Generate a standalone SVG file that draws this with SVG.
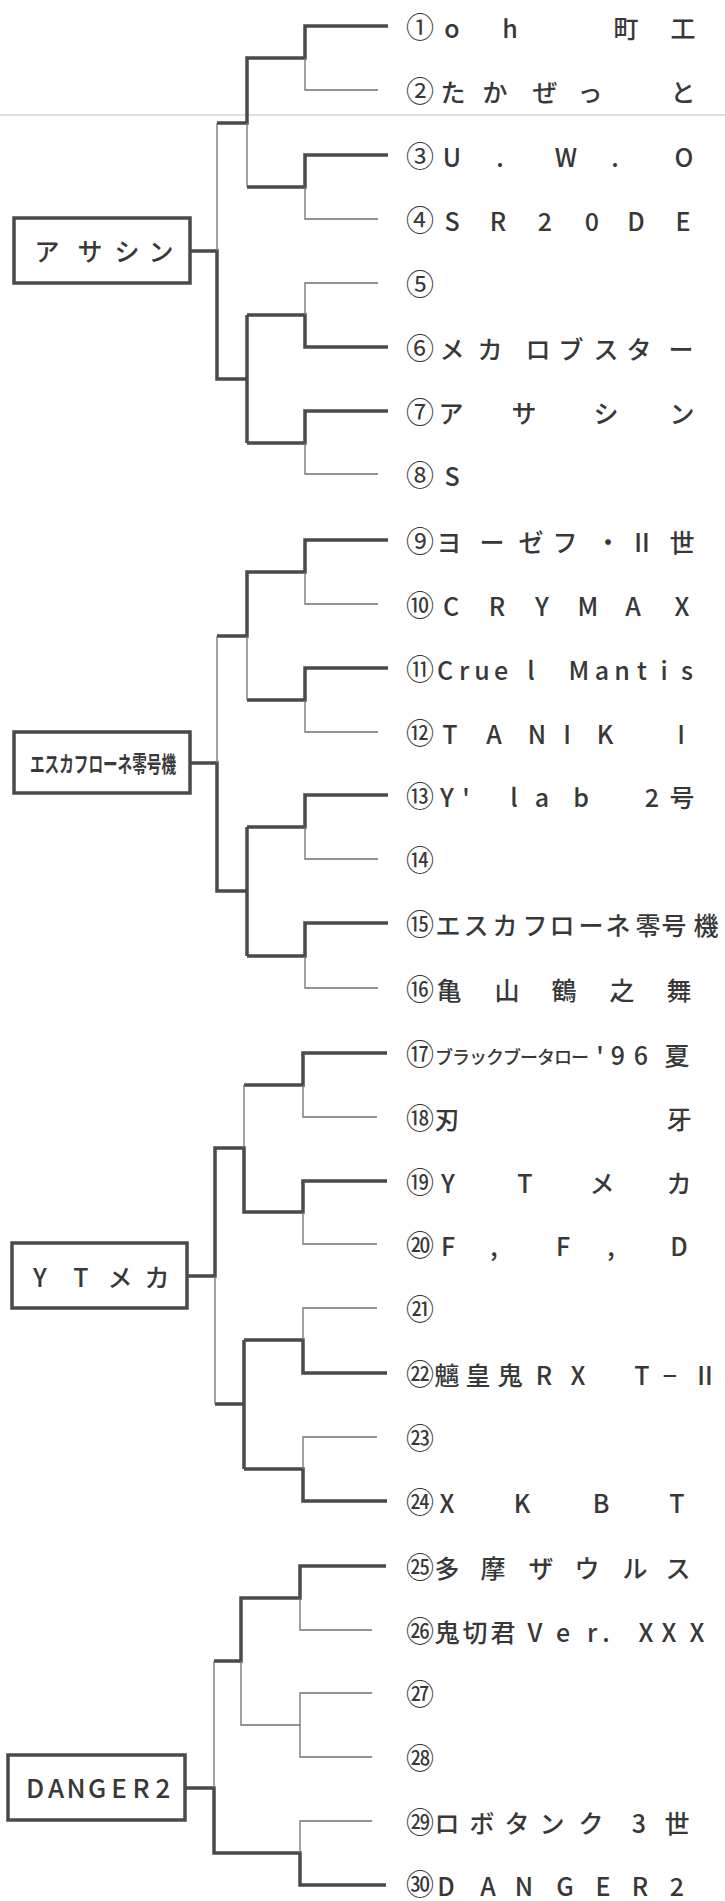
<svg xmlns="http://www.w3.org/2000/svg" width="725" height="1901" viewBox="0 0 725 1901">
<style>
.bg{fill:#ffffff}
.thick{fill:none;stroke:#4a4a4a;stroke-width:3.5;stroke-linejoin:miter;stroke-linecap:butt}
.thin{fill:none;stroke:#707070;stroke-width:1.3}
.artifact{stroke:#d4d4d4;stroke-width:1.5}
.box{fill:#ffffff;stroke:#4a4a4a;stroke-width:3.5}
.n{font-family:"Noto Sans CJK JP","Noto Sans",sans-serif;font-size:28px;fill:#383838;text-anchor:middle}
.t{font-family:"Noto Sans CJK JP","Noto Sans",sans-serif;font-size:25px;font-weight:500;fill:#383838;text-anchor:middle}
.bt{font-family:"Noto Sans CJK JP","Noto Sans",sans-serif;font-size:25px;font-weight:500;fill:#383838;text-anchor:middle}
</style>
<rect class="bg" x="0" y="0" width="725" height="1901"/>
<line class="artifact" x1="0" y1="115" x2="725" y2="115"/>

<g id="connectors">
  <!-- group A -->
  <path class="thick" d="M388,26 H305 V58 H247 V123 H217"/>
  <path class="thick" d="M388,155 H305 V187 H247"/>
  <path class="thick" d="M190,251 H217 V379 H247"/>
  <path class="thick" d="M247,315 V443"/>
  <path class="thick" d="M388,347 H305 V315 H247"/>
  <path class="thick" d="M388,411 H305 V443 H247"/>
  <path class="thin" d="M378,90 H305 V58"/>
  <path class="thin" d="M378,219 H305 V187"/>
  <path class="thin" d="M247,123 V187"/>
  <path class="thin" d="M217,123 V251"/>
  <path class="thin" d="M378,283 H305 V315"/>
  <path class="thin" d="M378,474 H305 V443"/>
  <!-- group B -->
  <path class="thick" d="M388,540 H305 V572 H247 V636 H217"/>
  <path class="thick" d="M388,668 H305 V700 H247"/>
  <path class="thick" d="M190,763 H217 V891 H247"/>
  <path class="thick" d="M247,827 V956"/>
  <path class="thick" d="M388,795 H305 V827 H247"/>
  <path class="thick" d="M388,923 H305 V956 H247"/>
  <path class="thin" d="M378,604 H305 V572"/>
  <path class="thin" d="M378,732 H305 V700"/>
  <path class="thin" d="M247,636 V700"/>
  <path class="thin" d="M217,636 V763"/>
  <path class="thin" d="M378,859 H305 V827"/>
  <path class="thin" d="M378,988 H305 V956"/>
  <!-- group C -->
  <path class="thick" d="M387,1053 H303 V1085 H244"/>
  <path class="thick" d="M387,1181 H303 V1212 H244 V1148 H215 V1276 H187"/>
  <path class="thick" d="M215,1404 H244"/>
  <path class="thick" d="M244,1340 V1469"/>
  <path class="thick" d="M387,1373 H303 V1340 H244"/>
  <path class="thick" d="M387,1501 H303 V1469 H244"/>
  <path class="thin" d="M377,1117 H303 V1085"/>
  <path class="thin" d="M244,1085 V1148"/>
  <path class="thin" d="M377,1244 H303 V1212"/>
  <path class="thin" d="M215,1276 V1404"/>
  <path class="thin" d="M377,1308 H303 V1340"/>
  <path class="thin" d="M377,1437 H303 V1469"/>
  <!-- group D -->
  <path class="thick" d="M386,1566 H300 V1598 H241 V1661 H214"/>
  <path class="thick" d="M185,1788 H214 V1853 H300 V1885 H386"/>
  <path class="thin" d="M372,1630 H300 V1598"/>
  <path class="thin" d="M241,1661 V1725 H300"/>
  <path class="thin" d="M372,1693 H300 V1757 H372"/>
  <path class="thin" d="M214,1661 V1788"/>
  <path class="thin" d="M372,1821 H300 V1853"/>
</g>

<g id="box-assassin">
  <rect class="box" x="14" y="218" width="176" height="65"/>
  <text class="bt" x="47 90 127 161" y="261">アサシン</text>
</g>
<g id="box-escaflowne">
  <rect class="box" x="14" y="732" width="176" height="61"/>
  <text x="30" y="772" textLength="146" lengthAdjust="spacingAndGlyphs" style="font-family:'Noto Sans CJK JP',sans-serif;font-size:22px;font-weight:bold;fill:#383838">エスカフローネ零号機</text>
</g>
<g id="box-ytmeka">
  <rect class="box" x="12" y="1243" width="175" height="65"/>
  <text class="bt" x="40 81 120 157" y="1287">YTメカ</text>
</g>
<g id="box-danger2">
  <rect class="box" x="8" y="1755" width="177" height="65"/>
  <text class="bt" x="35 56 76 97 119 141 163" y="1798" style="font-size:26px">DANGER2</text>
</g>

<g id="p1"><text class="n" x="420" y="38">①</text><text class="t" x="452 510 626 683" y="38">oh町工</text></g>
<g id="p2"><text class="n" x="420" y="102">②</text><text class="t" x="453 495 545 590 683" y="102">たかぜっと</text></g>
<g id="p3"><text class="n" x="420" y="167">③</text><text class="t" x="452 500 566 615 684" y="167">U.W.O</text></g>
<g id="p4"><text class="n" x="420" y="231">④</text><text class="t" x="452 498 545 592 636 683" y="231">SR20DE</text></g>
<g id="p5"><text class="n" x="420" y="295">⑤</text></g>
<g id="p6"><text class="n" x="420" y="359">⑥</text><text class="t" x="452 490 538 571 606 639 681" y="359">メカロブスター</text></g>
<g id="p7"><text class="n" x="420" y="423">⑦</text><text class="t" x="451 524 606 682" y="423">アサシン</text></g>
<g id="p8"><text class="n" x="420" y="486">⑧</text><text class="t" x="452" y="486">S</text></g>
<g id="p9"><text class="n" x="420" y="552">⑨</text><text class="t" x="449 492 531 565 608 642 682" y="552">ヨーゼフ・Ⅱ世</text></g>
<g id="p10"><text class="n" x="420" y="616">⑩</text><text class="t" x="451 497 542 588 633 682" y="616">CRYMAX</text></g>
<g id="p11"><text class="n" x="420" y="680">⑪</text><text class="t" x="445 464 482 501 531 555 579 602 622 642 664 687" y="680">Cruel Mantis</text></g>
<g id="p12"><text class="n" x="420" y="744">⑫</text><text class="t" x="450 494 537 567 605 640 681" y="744">TANIK I</text></g>
<g id="p13"><text class="n" x="420" y="807">⑬</text><text class="t" x="447 466 514 542 581 620 652 682" y="807">Y'lab 2号</text></g>
<g id="p14"><text class="n" x="420" y="871">⑭</text></g>
<g id="p15"><text class="n" x="420" y="935">⑮</text><text class="t" x="448 476 505 535 562 591 618 648 674 706" y="935">エスカフローネ零号機</text></g>
<g id="p16"><text class="n" x="420" y="1000">⑯</text><text class="t" x="449 507 564 622 679" y="1000">亀山鶴之舞</text></g>
<g id="p17"><text class="n" x="420" y="1065">⑰</text><text class="t" y="1064"><tspan style="font-size:18px" x="444 461 478 495 512 529 546 563 580">ブラックブータロー</tspan><tspan x="600 618 641 677" y="1065">'96夏</tspan></text></g>
<g id="p18"><text class="n" x="420" y="1129">⑱</text><text class="t" x="447 563 679" y="1129">刃 牙</text></g>
<g id="p19"><text class="n" x="420" y="1193">⑲</text><text class="t" x="448 525 602 679" y="1193">YTメカ</text></g>
<g id="p20"><text class="n" x="420" y="1256">⑳</text><text class="t" x="448 494 563 611 679" y="1256">F,F,D</text></g>
<g id="p21"><text class="n" x="420" y="1320">㉑</text></g>
<g id="p22"><text class="n" x="420" y="1385">㉒</text><text class="t" x="447 478 510 544 578 610 642 670 705" y="1385">魑皇鬼RX T−Ⅱ</text></g>
<g id="p23"><text class="n" x="420" y="1449">㉓</text></g>
<g id="p24"><text class="n" x="420" y="1513">㉔</text><text class="t" x="447 522 601 677" y="1513">XKBT</text></g>
<g id="p25"><text class="n" x="420" y="1578">㉕</text><text class="t" x="447 493 541 587 635 678" y="1578">多摩ザウルス</text></g>
<g id="p26"><text class="n" x="420" y="1642">㉖</text><text class="t" x="447 475 503 535 563 592 606 626 646 669 697" y="1642">鬼切君Ver. XXX</text></g>
<g id="p27"><text class="n" x="420" y="1705">㉗</text></g>
<g id="p28"><text class="n" x="420" y="1769">㉘</text></g>
<g id="p29"><text class="n" x="420" y="1833">㉙</text><text class="t" x="447 482 517 552 591 639 677" y="1833">ロボタンク3世</text></g>
<g id="p30"><text class="n" x="420" y="1895">㉚</text><text class="t" x="446 488 524 565 603 640 677" y="1896">DANGER2</text></g>
</svg>
